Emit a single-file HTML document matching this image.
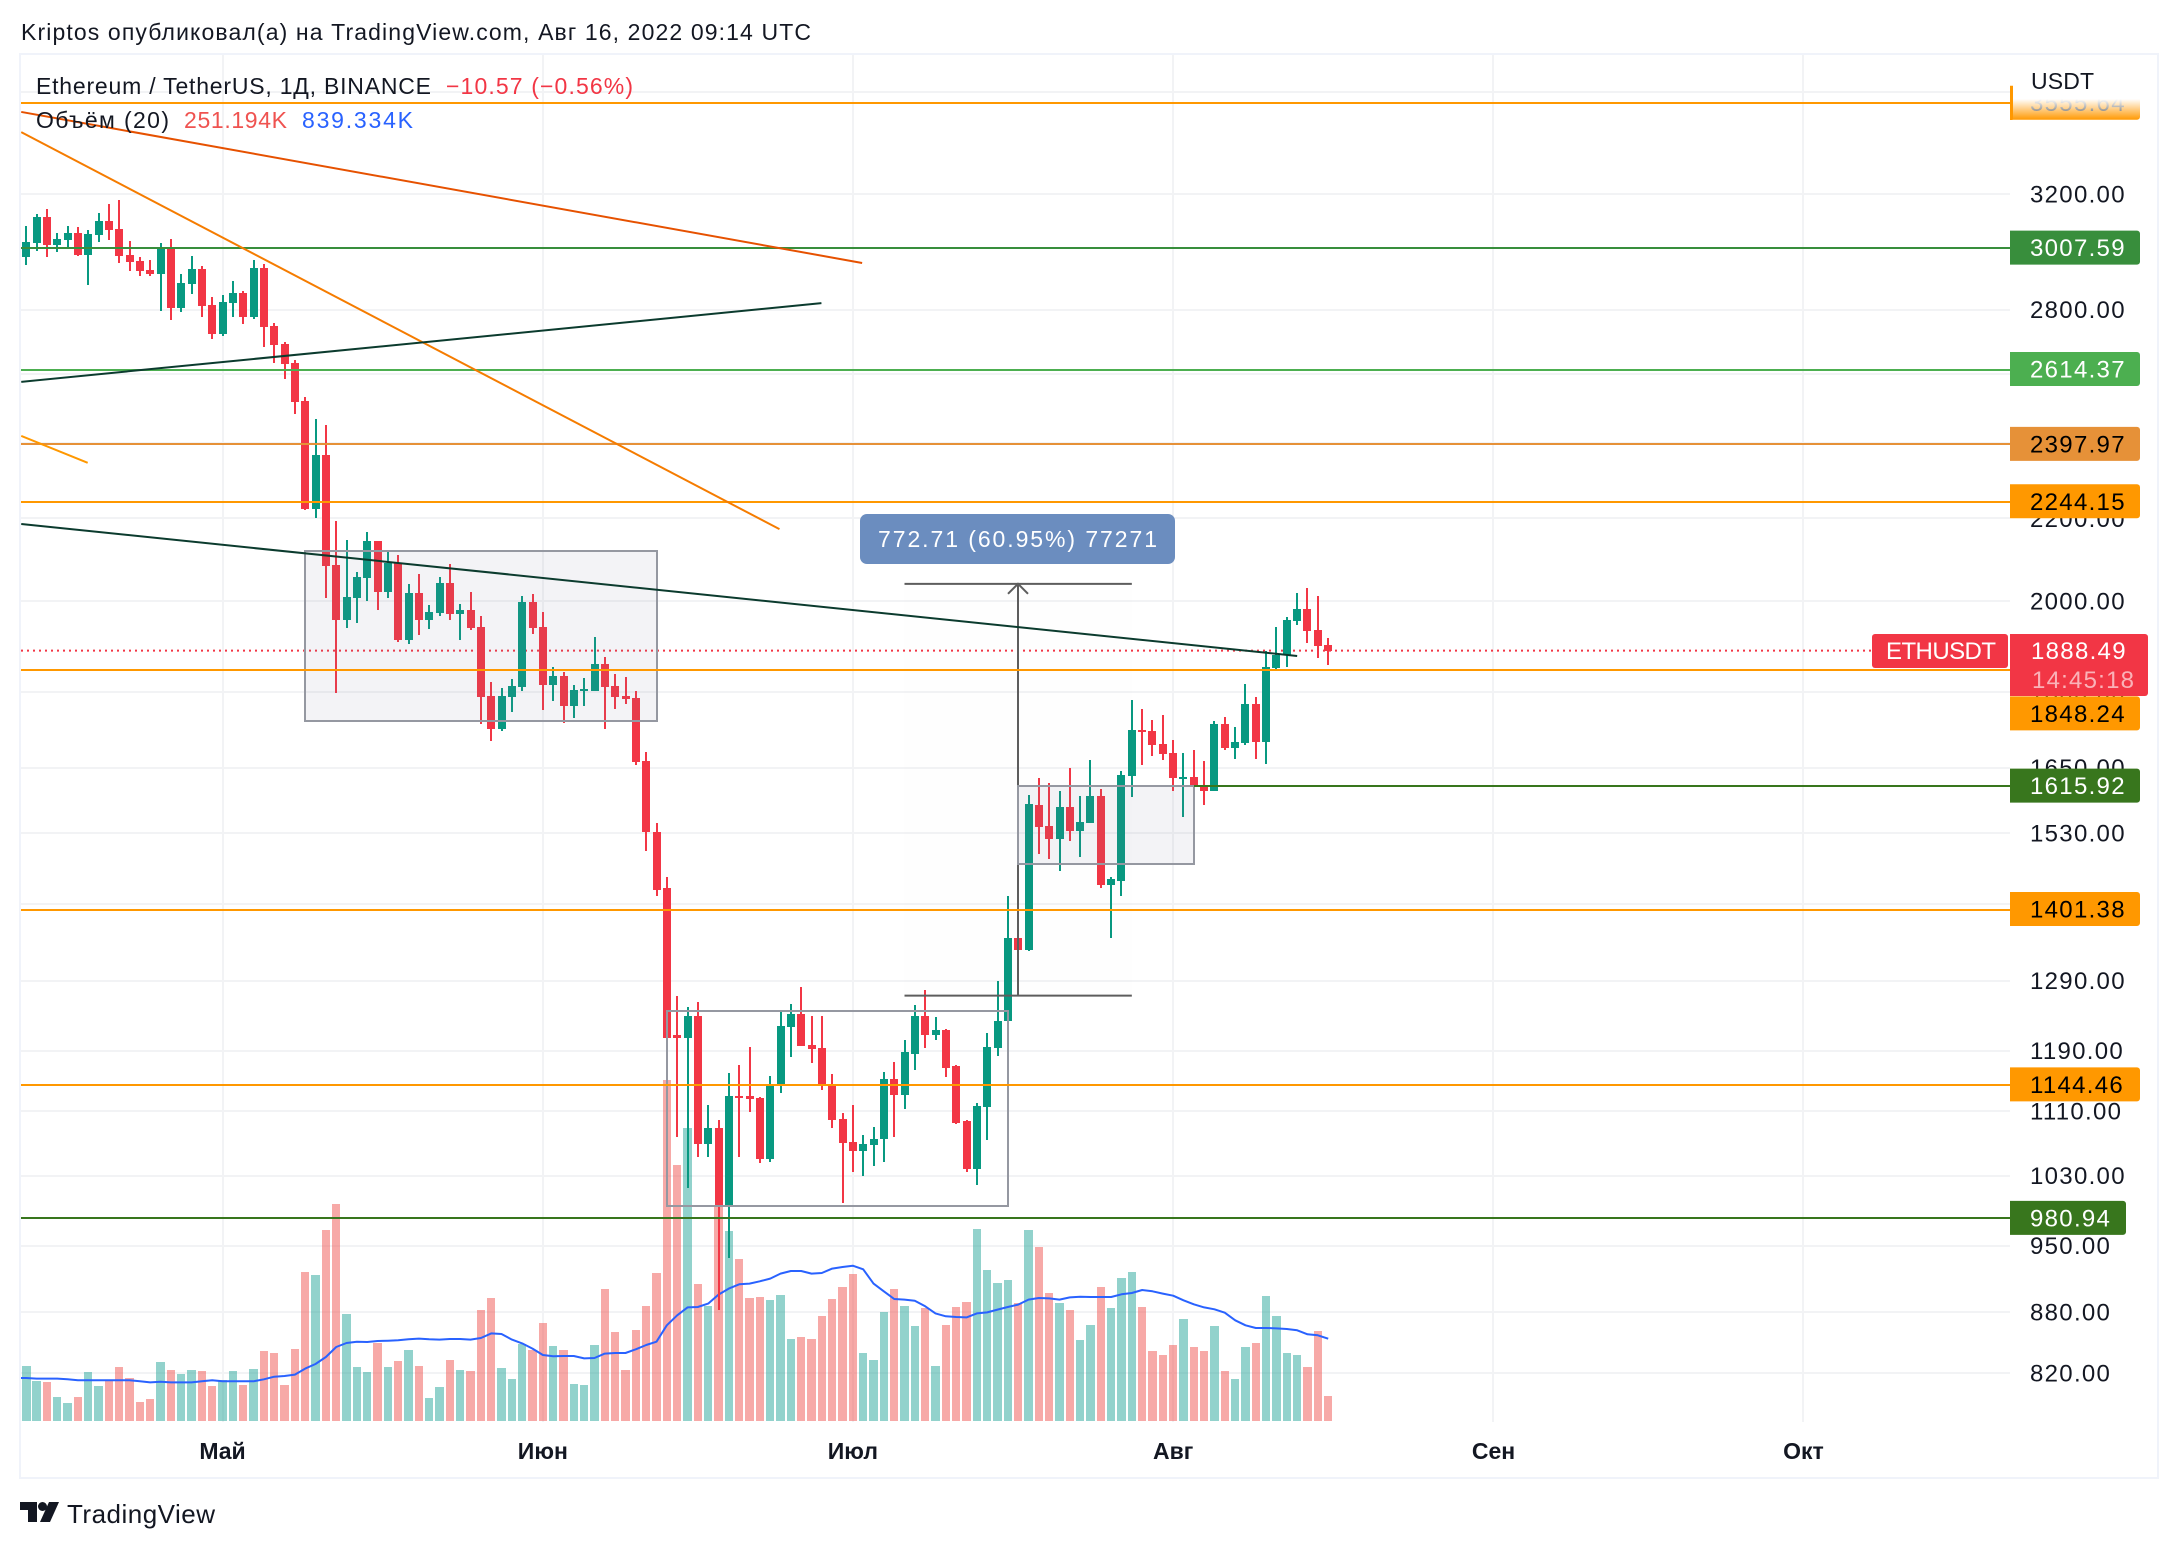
<!DOCTYPE html>
<html lang="ru">
<head>
<meta charset="utf-8">
<title>ETHUSDT chart</title>
<style>
html,body{margin:0;padding:0;background:#fff;}
svg{display:block;font-family:"Liberation Sans","Noto Sans CJK JP",sans-serif;}
</style>
</head>
<body>
<svg id="chart" xmlns="http://www.w3.org/2000/svg" width="2178" height="1548" viewBox="0 0 2178 1548">
  <defs>
    <clipPath id="plot-clip"><rect x="21" y="55" width="1989" height="1367"/></clipPath>
    <linearGradient id="fade" x1="0" y1="0" x2="0" y2="1">
      <stop offset="0" stop-color="#fff" stop-opacity="1"/>
      <stop offset="0.65" stop-color="#fff" stop-opacity="1"/>
      <stop offset="1" stop-color="#fff" stop-opacity="0"/>
    </linearGradient>
  </defs>
  <rect x="0" y="0" width="2178" height="1548" fill="#fff"/>
  <rect x="20" y="54" width="2138" height="1424" fill="none" stroke="#F0F3FA" stroke-width="2"/>
  <text x="21" y="40" font-size="23" fill="#131722" textLength="790">Kriptos опубликовал(а) на TradingView.com, Авг 16, 2022 09:14 UTC</text>
  <g id="grid"></g>
  <g id="axis-y"></g>
  <g id="axis-x"></g>
  <g clip-path="url(#plot-clip)">
    <g id="volume"></g>
    <g id="candles"></g>
    <g id="drawings"></g>
  </g>
  <g id="labels"></g>
  <rect x="2013" y="60" width="135" height="60" fill="url(#fade)"/>
  <text x="2031" y="89" font-size="23" fill="#131722" textLength="63">USDT</text>

  <text x="36" y="94" font-size="23" fill="#131722" textLength="395">Ethereum / TetherUS, 1Д, BINANCE</text>
  <text x="446" y="94" font-size="23" fill="#F23645" textLength="187">−10.57 (−0.56%)</text>
  <text x="36" y="128" font-size="23" fill="#131722" textLength="133">Объём (20)</text>
  <text x="184" y="128" font-size="23" fill="#EF5350" textLength="103">251.194K</text>
  <text x="302" y="128" font-size="23" fill="#2962FF" textLength="111">839.334K</text>

  <rect x="860" y="514" width="315" height="50" rx="7" fill="#6B8DBF"/>
  <text x="878" y="547" font-size="23" fill="#fff" textLength="279">772.71 (60.95%) 77271</text>

  <g>
    <polygon points="20,1502 37,1502 37,1522 28,1522 28,1510 20,1510" fill="#131722"/>
    <circle cx="42.5" cy="1506.5" r="4.5" fill="#131722"/>
    <polygon points="49,1502 59,1502 50,1522 40,1522" fill="#131722"/>
    <text x="67" y="1523" font-size="26" fill="#131722" textLength="148">TradingView</text>
  </g>
</svg>
<script>
// ---- data ----
const openPrices = [
2975,3024,3116,3017,3034,3059,2983,3052,3101,3073,
2983,2962,2931,2917,3007,2805,2884,2934,2815,2723,
2821,2854,2777,2938,2748,2691,2633,2520,2225,2367,
2085,1957,2007,2055,2144,2021,2090,1912,2019,1957,
1972,2043,1970,1979,1941,1792,1726,1790,1811,1997,
1941,1815,1834,1772,1803,1803,1860,1813,1792,1788,
1663,1532,1435,1211,1208,1238,1068,1088,996,1129,
1129,1126,1050,1144,1223,1242,1198,1193,1144,1100,
1071,1060,1067,1074,1151,1131,1186,1238,1212,1218,
1169,1097,1038,1115,1193,1232,1356,1337,1581,1543,
1520,1576,1534,1547,1597,1440,1448,1634,1724,1722,
1696,1678,1631,1633,1613,1606,1736,1688,1698,1776,
1700,1851,1879,1955,1981,1934,1901];
const highPrices = [
3084,3127,3145,3059,3084,3081,3070,3130,3163,3178,
3031,2975,2965,3024,3038,2917,2979,2945,2841,2848,
2894,2861,2965,2951,2757,2698,2642,2532,2468,2451,
2194,2146,2068,2166,2144,2117,2109,2040,2064,1990,
2057,2087,1993,2021,1966,1822,1809,1828,2012,2016,
1975,1853,1843,1815,1830,1918,1875,1838,1832,1803,
1680,1547,1455,1268,1251,1258,1118,1098,1159,1170,
1195,1128,1155,1244,1256,1280,1239,1238,1158,1107,
1117,1079,1089,1161,1175,1205,1255,1277,1237,1220,
1171,1099,1120,1215,1289,1423,1356,1598,1631,1620,
1606,1650,1597,1665,1610,1455,1644,1784,1766,1744,
1754,1704,1678,1684,1663,1742,1750,1730,1817,1790,
1888,1941,1963,2019,2031,2011,1917];
const lowPrices = [
2948,2996,2975,2993,3010,2979,2880,3027,3034,2955,
2928,2911,2911,2796,2767,2793,2851,2777,2707,2716,
2777,2754,2770,2682,2633,2585,2482,2222,2200,2007,
1799,1939,1950,2000,1979,2007,1908,1903,1923,1936,
1965,1957,1912,1934,1736,1702,1722,1760,1803,1925,
1764,1782,1738,1748,1772,1803,1726,1766,1776,1655,
1498,1423,1208,1077,1015,1052,1052,882,937,1053,
1109,1045,1046,1133,1181,1196,1173,1137,1088,998,
1034,1030,1042,1046,1077,1112,1163,1193,1205,1154,
1093,1034,1019,1073,1182,1231,1337,1335,1494,1484,
1465,1516,1489,1547,1436,1356,1422,1594,1655,1673,
1665,1606,1559,1615,1581,1606,1684,1667,1694,1667,
1657,1849,1854,1946,1906,1872,1858];
const closePrices = [
3027,3116,3017,3038,3059,2983,3056,3101,3070,2979,
2958,2928,2917,3007,2805,2887,2934,2812,2723,2825,
2854,2777,2938,2744,2688,2630,2517,2225,2367,2083,
1957,2009,2057,2144,2021,2090,1912,2019,1957,1975,
2043,1970,1979,1939,1790,1726,1792,1813,1997,1939,
1815,1834,1772,1805,1807,1860,1811,1790,1786,1661,
1531,1433,1208,1208,1238,1068,1088,996,1129,1128,
1125,1050,1144,1225,1242,1197,1192,1144,1099,1070,
1060,1068,1075,1151,1131,1188,1238,1212,1218,1167,
1095,1038,1116,1195,1232,1356,1337,1582,1541,1520,
1576,1534,1549,1597,1440,1450,1636,1724,1720,1694,
1676,1631,1633,1615,1606,1736,1688,1700,1776,1700,
1854,1879,1957,1981,1932,1899,1888.49];
const volumeK = [
558,405,394,241,180,241,496,354,415,547,
435,190,221,598,517,476,517,507,354,415,
507,364,527,711,690,364,731,1516,1486,1945,
2210,1088,547,496,792,547,609,721,558,231,
343,619,517,507,1129,1251,537,425,782,721,
996,762,721,374,364,772,1343,904,517,925,
1170,1506,3478,2611,2989,1394,1170,2183,1935,1649,
1251,1261,1231,1282,833,853,833,1068,1241,1363,
1496,690,619,1108,1343,1170,966,1149,558,976,
1159,1210,1955,1537,1404,1435,1200,1945,1771,1302,
1200,1129,823,976,1363,1149,1455,1516,1159,711,
670,772,1037,751,711,966,507,425,751,792,
1272,1068,690,670,547,915,251.194];
const volumeMaK = [
439,432,432,432,425,415,415,415,415,415,
415,405,394,401,394,394,394,405,415,405,
405,405,405,425,452,459,473,534,581,653,
755,796,809,806,816,819,823,833,840,833,
830,836,836,830,847,894,887,830,792,738,
673,660,663,663,639,643,687,694,694,731,
775,809,976,1078,1159,1163,1197,1289,1350,1394,
1401,1425,1452,1503,1530,1530,1503,1510,1554,1571,
1584,1547,1401,1323,1244,1238,1227,1170,1098,1068,
1061,1057,1098,1108,1136,1163,1187,1238,1255,1251,
1238,1261,1268,1265,1265,1265,1292,1306,1336,1323,
1299,1278,1231,1190,1159,1139,1105,1027,976,949,
949,945,938,925,884,874,839.334];
const priceTicks = [3600,3200,2800,2600,2400,2200,2000,1800,1650,1530,1410,1290,1190,1110,1030,950,880,820];
const monthLabels = ['Май','Июн','Июл','Авг','Сен','Окт'];
const monthBars = [19,50,80,111,142,172];
const levelValues = [3555.64,3007.59,2614.37,2397.97,2244.15,1848.24,1615.92,1401.38,1144.46,980.94];
const levelColors = ['#FF9800','#388E3C','#4CAF50','#E69138','#FF9800','#FF9800','#38761D','#FF9800','#FF9800','#38761D'];
const levelTextColors = ['#444','#fff','#fff','#000','#000','#000','#fff','#000','#000','#fff'];
const lastPrice = 1888.49;
const countdown = '14:45:18';
// trend lines: start bar, start price, end bar, end price
const trendStartBar = [-0.48,-0.48,-0.48,-0.48,-0.48];
const trendStartPrice = [3518,3437,2420,2576,2186];
const trendEndBar = [80.9,72.9,5.95,76.96,123];
const trendEndPrice = [2955,2173,2346,2821,1877];
const trendColors = ['#E65100','#F57C00','#FF9800','#0B3B2E','#0B3B2E'];
// rectangles: left bar, right bar, top price, bottom price
const boxLeftBar = [27,62,96];
const boxRightBar = [61,95,113];
const boxTopPrice = [2120,1245,1615.92];
const boxBottomPrice = [1742,995,1477];
const boxFilled = [true,false,true];
// measure tool
const measureBars = [85,96,107];
const measurePrices = [2040,1268];

// ---- axes ----
function x(i){ return 26.2 + 10.333 * i; }
function y(p){ return 601 + 866 * Math.log(2000 / p); }
function vy(v){ return 1421 - v / 10.2; }

const NS = 'http://www.w3.org/2000/svg';
function mk(tag, attrs, parent){
  const el = document.createElementNS(NS, tag);
  for (const k in attrs) el.setAttribute(k, attrs[k]);
  parent.appendChild(el);
  return el;
}
const gGrid = document.getElementById('grid');
const gAxisY = document.getElementById('axis-y');
const gAxisX = document.getElementById('axis-x');
const gVol = document.getElementById('volume');
const gCandles = document.getElementById('candles');
const gDraw = document.getElementById('drawings');
const gLabels = document.getElementById('labels');
const UP = '#089981', DOWN = '#F23645';
const GRID = '#F2F3F5';
const FONT_NUM = {'font-size':24,'letter-spacing':1.3};

// grid and price ticks
priceTicks.forEach(function(p){
  const gy = Math.round(y(p));
  const line = mk('rect',{x:21,y:gy-1,width:1989,height:2,fill:GRID,'shape-rendering':'crispEdges'},gGrid);
  
  
  const t = mk('text',{x:2030,y:y(p)+8.5,fill:'#131722','font-size':FONT_NUM['font-size'],'letter-spacing':FONT_NUM['letter-spacing']},gAxisY);
  t.textContent = p.toFixed(2);
  
  
});
monthBars.forEach(function(b, k){
  const gx = Math.round(x(b));
  const line = mk('rect',{x:gx-1,y:55,width:2,height:1367,fill:GRID,'shape-rendering':'crispEdges'},gGrid);
  
  
  const t = mk('text',{x:x(b),y:1459,'text-anchor':'middle','font-size':23,'font-weight':'bold',fill:'#131722'},gAxisX);
  t.textContent = monthLabels[k];
  
  
});

// last price dotted line
const lastLine = mk('line',{x1:21,x2:1872,y1:y(lastPrice),y2:y(lastPrice),stroke:DOWN,'stroke-width':2,'stroke-dasharray':'2 4'},gVol);



// volume bars
volumeK.forEach(function(v, i){
  const up = closePrices[i] >= openPrices[i];
  const x0 = Math.round(x(i) - 4.3), x1 = Math.round(x(i) + 4.3);
  const top = Math.round(vy(v));
  const bar = mk('rect',{x:x0,y:top,width:x1-x0,height:1421-top,fill:up?'rgba(38,166,154,.5)':'rgba(239,83,80,.5)','shape-rendering':'crispEdges'},gVol);
  
  
});
// volume MA
let maPath = 'M' + x(-1).toFixed(1) + ' ' + vy(volumeMaK[0]).toFixed(1);
volumeMaK.forEach(function(v, i){
  maPath += ' L' + x(i).toFixed(1) + ' ' + vy(v).toFixed(1);
});
const maLine = mk('path',{d:maPath,fill:'none',stroke:'#2962FF','stroke-width':2,'stroke-linejoin':'round'},gVol);



// candles
openPrices.forEach(function(o, i){
  const c = closePrices[i], h = highPrices[i], l = lowPrices[i];
  const col = c >= o ? UP : DOWN;
  const cx = Math.round(x(i));
  const g = mk('g',{fill:col,'shape-rendering':'crispEdges'},gCandles);
  
  
  const yh = Math.round(y(h)), yl = Math.round(y(l));
  const wick = mk('rect',{x:cx-1,y:yh,width:2,height:Math.max(1,yl-yh)},g);
  
  
  const top = Math.round(y(Math.max(o,c)));
  const bot = Math.round(y(Math.min(o,c)));
  const body = mk('rect',{x:cx-4,y:top,width:8,height:Math.max(2,bot-top)},g);
  
  
});

// measure tool
(function(){
  const xl = x(measureBars[0]), xm = Math.round(x(measureBars[1])), xr = x(measureBars[2]);
  const yt = y(measurePrices[0]), yb = y(measurePrices[1]);
  const bg = mk('rect',{x:xl,y:yt,width:xr-xl,height:yb-yt,fill:'rgba(76,175,80,.008)'},gDraw);
  
  
  const t1 = mk('line',{x1:xl,x2:xr,y1:yt,y2:yt,stroke:'#5D5D5D','stroke-width':2},gDraw);
  
  
  const t2 = mk('line',{x1:xl,x2:xr,y1:yb,y2:yb,stroke:'#5D5D5D','stroke-width':2},gDraw);
  
  
  const v = mk('line',{x1:xm,x2:xm,y1:yt,y2:yb,stroke:'#5D5D5D','stroke-width':2},gDraw);
  
  
  const a = mk('path',{d:'M'+(xm-10)+' '+(yt+10)+' L'+xm+' '+yt+' L'+(xm+10)+' '+(yt+10),fill:'none',stroke:'#5D5D5D','stroke-width':2},gDraw);
  
  
})();

// rectangles
boxLeftBar.forEach(function(b, k){
  const x0 = Math.round(x(b)), x1 = Math.round(x(boxRightBar[k]));
  const y0 = Math.round(y(boxTopPrice[k])), y1 = Math.round(y(boxBottomPrice[k]));
  const r = mk('rect',{x:x0,y:y0,width:x1-x0,height:y1-y0,fill:boxFilled[k]?'rgba(120,123,150,.09)':'none',stroke:'#9598A1','stroke-width':2,'shape-rendering':'crispEdges'},gDraw);
  
  
});

// horizontal levels and labels
levelValues.forEach(function(p, k){
  const ly = y(p);
  const startX = p === 1615.92 ? x(113) : 21;
  const line = mk('rect',{x:startX,y:Math.round(ly+0.5)-1,width:2010-startX,height:2,fill:levelColors[k],'shape-rendering':'crispEdges'},gDraw);
  
  
  const cy = p === 1848.24 ? ly + 44 : ly;
  const w = p < 1000 ? 116 : 130;
  const top = cy - 17;
  const tag = mk('path',{d:'M2010 '+top+' h'+(w-3)+' a3 3 0 0 1 3 3 v28 a3 3 0 0 1 -3 3 h-'+(w-3)+' z',fill:levelColors[k]},gLabels);
  
  
  const t = mk('text',{x:2030,y:cy+8.5,fill:levelTextColors[k],'font-size':FONT_NUM['font-size'],'letter-spacing':FONT_NUM['letter-spacing']},gLabels);
  t.textContent = p.toFixed(2);
  
  
});
// orange edge on top tag
const edge = mk('rect',{x:2010,y:86,width:2.5,height:34,fill:'#FF9800'},gLabels);



// trend lines
trendStartBar.forEach(function(b, k){
  const l = mk('line',{x1:x(b),y1:y(trendStartPrice[k]),x2:x(trendEndBar[k]),y2:y(trendEndPrice[k]),stroke:trendColors[k],'stroke-width':2},gDraw);
  
  
});

// last price tags
(function(){
  const ty = Math.round(y(lastPrice)) - 17;
  const nameTag = mk('rect',{x:1872,y:ty,width:136,height:34,rx:3,fill:DOWN},gLabels);
  
  
  const nameText = mk('text',{x:1886,y:ty+25,fill:'#fff','font-size':24,textLength:110},gLabels);
  nameText.textContent = 'ETHUSDT';
  
  
  const priceTag = mk('path',{d:'M2010 '+ty+' h135 a3 3 0 0 1 3 3 v56 a3 3 0 0 1 -3 3 h-135 z',fill:DOWN},gLabels);
  
  
  const priceText = mk('text',{x:2031,y:ty+25,fill:'#fff','font-size':FONT_NUM['font-size'],'letter-spacing':FONT_NUM['letter-spacing']},gLabels);
  priceText.textContent = lastPrice.toFixed(2);
  
  
  const cdText = mk('text',{x:2032,y:ty+54,fill:'rgba(255,255,255,.62)','font-size':24,textLength:102},gLabels);
  cdText.textContent = countdown;
  
  
})();
</script>
</body>
</html>
